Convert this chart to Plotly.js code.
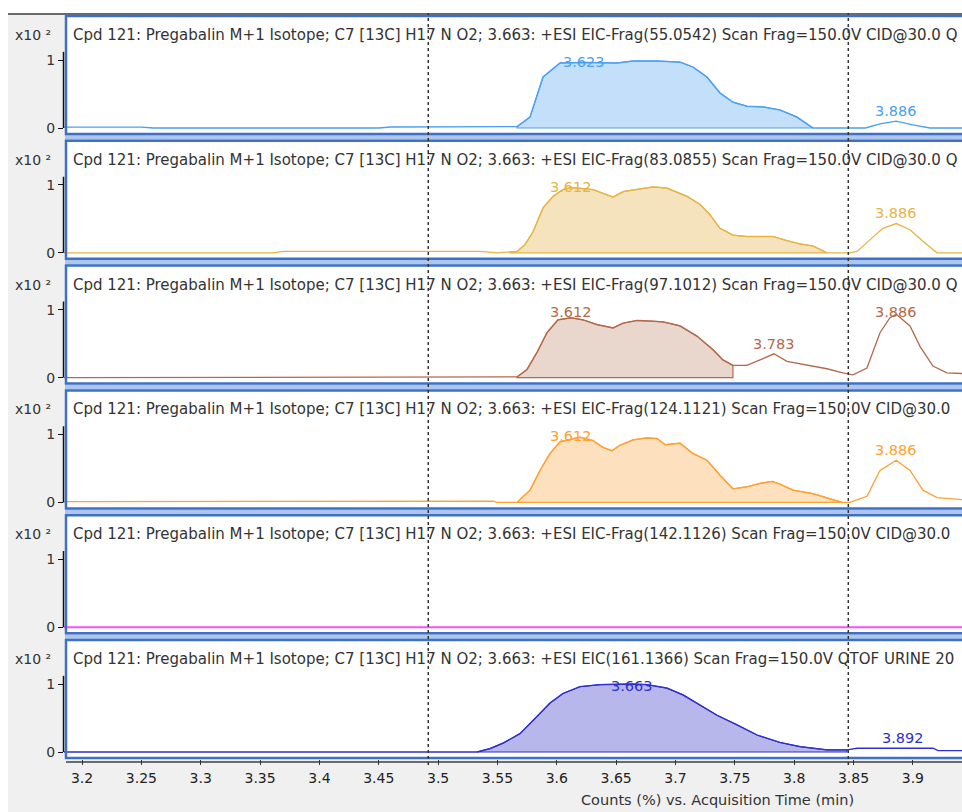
<!DOCTYPE html>
<html>
<head>
<meta charset="utf-8">
<script src="https://cdn.plot.ly/plotly-3.0.1.min.js"></script>
<style>html,body{margin:0;padding:0;background:#fff;}#chart{width:962px;height:812px;}</style>
</head>
<body>
<div id="chart"></div>
<script>
// ---------- DATA ----------
const panelTitles = [
  "Cpd 121: Pregabalin M+1 Isotope; C7 [13C] H17 N O2; 3.663: +ESI EIC-Frag(55.0542) Scan Frag=150.0V CID@30.0 Q",
  "Cpd 121: Pregabalin M+1 Isotope; C7 [13C] H17 N O2; 3.663: +ESI EIC-Frag(83.0855) Scan Frag=150.0V CID@30.0 Q",
  "Cpd 121: Pregabalin M+1 Isotope; C7 [13C] H17 N O2; 3.663: +ESI EIC-Frag(97.1012) Scan Frag=150.0V CID@30.0 Q",
  "Cpd 121: Pregabalin M+1 Isotope; C7 [13C] H17 N O2; 3.663: +ESI EIC-Frag(124.1121) Scan Frag=150.0V CID@30.0",
  "Cpd 121: Pregabalin M+1 Isotope; C7 [13C] H17 N O2; 3.663: +ESI EIC-Frag(142.1126) Scan Frag=150.0V CID@30.0",
  "Cpd 121: Pregabalin M+1 Isotope; C7 [13C] H17 N O2; 3.663: +ESI EIC(161.1366) Scan Frag=150.0V QTOF URINE 20"
];
const yScaleLabel = "x10 \u00B2";

// Panel 1: EIC-Frag 55.0542 (x10^2 counts %)
const t1 = [3.1848, 3.25, 3.26, 3.45, 3.46, 3.49, 3.50, 3.5665, 3.5774, 3.5884, 3.6027, 3.6195, 3.623, 3.6507, 3.6642, 3.6844, 3.7038, 3.7147, 3.7265, 3.7375, 3.7484, 3.7602, 3.7737, 3.788, 3.8024, 3.8158, 3.82, 3.86, 3.8723, 3.886, 3.90, 3.9144, 3.9414];
const y1 = [0.012, 0.012, 0.0, 0.0, 0.015, 0.015, 0.02, 0.02, 0.16, 0.75, 0.956, 0.96, 0.965, 0.956, 0.985, 0.985, 0.97, 0.897, 0.75, 0.515, 0.38, 0.32, 0.31, 0.265, 0.16, 0.0, 0.0, 0.0, 0.06, 0.1, 0.045, 0.0, 0.0];
// Panel 2: EIC-Frag 83.0855
const t2 = [3.1848, 3.36, 3.37, 3.5353, 3.5496, 3.5606, 3.5665, 3.5732, 3.58, 3.5884, 3.5968, 3.6052, 3.612, 3.6305, 3.6389, 3.6474, 3.6558, 3.6676, 3.6811, 3.6929, 3.7097, 3.7207, 3.7291, 3.7375, 3.7484, 3.7602, 3.7821, 3.7939, 3.8049, 3.8158, 3.8276, 3.847, 3.8529, 3.8638, 3.8748, 3.886, 3.8976, 3.9085, 3.9203, 3.9414];
const y2 = [0.0, 0.0, 0.02, 0.02, 0.0, 0.01, 0.02, 0.12, 0.31, 0.66, 0.83, 0.93, 0.96, 0.93, 0.88, 0.82, 0.90, 0.93, 0.97, 0.95, 0.83, 0.71, 0.56, 0.36, 0.26, 0.24, 0.24, 0.18, 0.13, 0.10, 0.0, 0.0, 0.02, 0.19, 0.36, 0.43, 0.34, 0.17, 0.0, 0.0];
// Panel 3: EIC-Frag 97.1012
const t3 = [3.1848, 3.5665, 3.5749, 3.5833, 3.5917, 3.601, 3.612, 3.6221, 3.6339, 3.6474, 3.6558, 3.6676, 3.6811, 3.6895, 3.7038, 3.7181, 3.7316, 3.74, 3.7484, 3.7602, 3.7712, 3.783, 3.7939, 3.8108, 3.8276, 3.8411, 3.8495, 3.8613, 3.8723, 3.8807, 3.886, 3.8976, 3.906, 3.9169, 3.9287, 3.9414];
const y3 = [0.0, 0.01, 0.12, 0.37, 0.66, 0.85, 0.88, 0.85, 0.78, 0.73, 0.80, 0.84, 0.83, 0.82, 0.76, 0.61, 0.41, 0.26, 0.18, 0.18, 0.26, 0.35, 0.24, 0.19, 0.13, 0.07, 0.04, 0.14, 0.66, 0.88, 0.93, 0.76, 0.46, 0.17, 0.07, 0.06];
// Panel 4: EIC-Frag 124.1121
const t4 = [3.1848, 3.53, 3.5353, 3.5462, 3.5496, 3.5665, 3.5774, 3.5858, 3.5943, 3.6027, 3.612, 3.6195, 3.6305, 3.6389, 3.6465, 3.6532, 3.6642, 3.676, 3.6844, 3.6912, 3.7038, 3.7147, 3.7265, 3.7375, 3.7484, 3.7602, 3.7712, 3.7813, 3.788, 3.799, 3.8158, 3.8302, 3.8403, 3.847, 3.8613, 3.8723, 3.886, 3.8976, 3.9085, 3.9203, 3.9338, 3.9414];
const y4 = [0.01, 0.01, 0.02, 0.02, 0.0, 0.0, 0.18, 0.47, 0.72, 0.89, 0.93, 0.96, 0.91, 0.81, 0.76, 0.84, 0.92, 0.95, 0.94, 0.85, 0.87, 0.72, 0.62, 0.40, 0.20, 0.23, 0.28, 0.31, 0.27, 0.18, 0.13, 0.05, 0.0, 0.0, 0.09, 0.47, 0.62, 0.47, 0.18, 0.07, 0.05, 0.04];
// Panel 5: EIC-Frag 142.1126 (flat)
const t5 = [3.1848, 3.9414];
const y5 = [0.0, 0.0];
// Panel 6: EIC 161.1366
const t6 = [3.1848, 3.5328, 3.5437, 3.5547, 3.569, 3.5833, 3.5943, 3.6052, 3.6195, 3.6364, 3.663, 3.676, 3.6929, 3.7063, 3.7207, 3.735, 3.7518, 3.7687, 3.788, 3.8049, 3.8276, 3.8445, 3.853, 3.892, 3.917, 3.9212, 3.9414];
const y6 = [0.0, 0.0, 0.05, 0.13, 0.27, 0.52, 0.72, 0.86, 0.96, 0.99, 1.0, 0.99, 0.94, 0.84, 0.69, 0.54, 0.40, 0.25, 0.14, 0.08, 0.03, 0.03, 0.055, 0.055, 0.055, 0.02, 0.02];

const times = [t1, t2, t3, t4, t5, t6];
const values = [y1, y2, y3, y4, y5, y6];
// integrated (filled) peak ranges
const fillStart = [3.5665, 3.5606, 3.5665, 3.5665, null, 3.5328];
const fillEnd   = [3.8158, 3.8276, 3.7484, 3.8403, null, 3.8445];
// peak labels
const peakLabels = [["3.623", "3.886"], ["3.612", "3.886"], ["3.612", "3.783", "3.886"], ["3.612", "3.886"], [], ["3.663", "3.892"]];
const markerTimes = [3.4917, 3.8456];
const xTicks = [3.2, 3.25, 3.3, 3.35, 3.4, 3.45, 3.5, 3.55, 3.6, 3.65, 3.7, 3.75, 3.8, 3.85, 3.9];
const xTitle = "Counts (%) vs. Acquisition Time (min)";

const lineColors = ["#4aa0f2", "#e6b443", "#b4694a", "#ffa030", "#ff4dff", "#2f2fcc"];
const fillColors = ["#c4dff9", "#f4e3bd", "#e9d7cd", "#fde0bd", "#ffffff", "#b7b7ec"];

// ---------- LAYOUT HELPERS ----------
const W = 962, H = 812;
const fx = p => p / W;
const fy = p => 1 - p / H;
const PERIOD = 124.8, TOP0 = 15, BOXH = 120, ONE = 45, ZERO = 113, PXU = 68;
const FONT = "DejaVu Sans, Liberation Sans, sans-serif";
const FS = 14.5;

function interp(xs, ys, x) {
  for (let i = 0; i < xs.length - 1; i++) {
    if (x >= xs[i] && x <= xs[i + 1]) {
      const f = (x - xs[i]) / (xs[i + 1] - xs[i]);
      return ys[i] + f * (ys[i + 1] - ys[i]);
    }
  }
  return 0;
}

const traces = [], shapes = [], annotations = [];
const layout = {
  width: W, height: H,
  margin: {l: 0, r: 0, t: 0, b: 0},
  paper_bgcolor: "#ffffff",
  plot_bgcolor: "rgba(0,0,0,0)",
  showlegend: false,
  font: {family: FONT, size: FS, color: "#333"},
  xaxis: {
    domain: [fx(64), 1],
    range: [3.1848, 3.9414],
    anchor: "y6",
    tickvals: xTicks,
    ticktext: xTicks.map(v => String(v)),
    ticks: "outside", ticklen: 5, tickcolor: "#333", tickwidth: 1,
    showgrid: false, zeroline: false, showline: false,
    tickfont: {family: FONT, size: 14, color: "#222"},
    ticklabelstandoff: 1
  }
};

// background frame
shapes.push({type: "rect", xref: "paper", yref: "paper", x0: fx(8), x1: 1, y0: 0, y1: fy(13), fillcolor: "#f0f0f0", line: {width: 0}, layer: "below"});
shapes.push({type: "line", xref: "paper", yref: "paper", x0: fx(8), x1: 1, y0: fy(14), y1: fy(14), line: {color: "#6a6a6a", width: 2}, layer: "below"});
// gap strip between panels
shapes.push({type: "rect", xref: "paper", yref: "paper", x0: fx(65), x1: 1, y0: fy(TOP0 + 5 * PERIOD + BOXH), y1: fy(TOP0), fillcolor: "#aec6ec", line: {width: 0}, layer: "below"});
// bottom gray shadow
shapes.push({type: "line", xref: "paper", yref: "paper", x0: fx(66), x1: 1, y0: fy(762), y1: fy(762), line: {color: "#6a6a6a", width: 2}, layer: "below"});

for (let i = 0; i < 6; i++) {
  const T = TOP0 + PERIOD * i, B = T + BOXH;
  const yname = i === 0 ? "y" : "y" + (i + 1);
  const ykey = i === 0 ? "yaxis" : "yaxis" + (i + 1);
  layout[ykey] = {
    domain: [fy(B), fy(T)],
    range: [-(BOXH - ZERO) / PXU, 1 + ONE / PXU],
    anchor: "x",
    tickvals: [0, 1], ticktext: ["0", "1"],
    ticks: "outside", ticklen: 5, tickcolor: "#111", tickwidth: 1,
    showgrid: false, zeroline: false, showline: false,
    tickfont: {family: FONT, size: 14, color: "#333"},
    ticklabelstandoff: 0,
    fixedrange: true
  };
  // white panel box
  shapes.push({type: "rect", xref: "paper", yref: "paper", x0: fx(65), x1: fx(990), y0: fy(B), y1: fy(T), fillcolor: "#ffffff", line: {width: 0}, layer: "below"});
  // blue border
  shapes.push({type: "rect", xref: "paper", yref: "paper", x0: fx(66), x1: fx(990), y0: fy(B - 1), y1: fy(T + 1), fillcolor: "rgba(0,0,0,0)", line: {color: "#3d70c6", width: 2.5}, layer: "above"});
  // y axis black line
  shapes.push({type: "line", xref: "paper", yref: yname, x0: fx(63.5), x1: fx(63.5), y0: 0, y1: 1.12, line: {color: "#111", width: 1.5}, layer: "above"});

  const xs = times[i], ys = values[i];
  // filled integration area
  if (fillStart[i] !== null) {
    const fxs = [], fys = [];
    for (let k = 0; k < xs.length; k++) {
      if (xs[k] >= fillStart[i] - 1e-9 && xs[k] <= fillEnd[i] + 1e-9) { fxs.push(xs[k]); fys.push(ys[k]); }
    }
    fxs.push(fillEnd[i], fillStart[i], fxs[0]);
    fys.push(0, 0, fys[0]);
    traces.push({x: fxs, y: fys, xaxis: "x", yaxis: yname, type: "scatter", mode: "lines", fill: "toself", fillcolor: fillColors[i], line: {color: lineColors[i], width: 1.2}, hoverinfo: "skip"});
  }
  traces.push({x: xs, y: ys, xaxis: "x", yaxis: yname, type: "scatter", mode: "lines", line: {color: lineColors[i], width: i === 4 ? 2 : 1.3}, hoverinfo: "skip"});

  // panel title and x10^2 label
  annotations.push({xref: "paper", yref: "paper", x: fx(71), y: fy(T + 20), xanchor: "left", yanchor: "middle", text: panelTitles[i], showarrow: false, font: {family: FONT, size: 15, color: "#333"}});
  annotations.push({xref: "paper", yref: "paper", x: fx(13), y: fy(T + 20), xanchor: "left", yanchor: "middle", text: yScaleLabel, showarrow: false, font: {family: FONT, size: 14, color: "#333"}});

  // peak labels
  peakLabels[i].forEach(lbl => {
    const px = parseFloat(lbl);
    const pv = interp(xs, ys, px);
    annotations.push({xref: "x", yref: yname, x: px, y: Math.min(pv + 0.15, 0.97), xanchor: "center", yanchor: "middle", text: lbl, showarrow: false, font: {family: FONT, size: FS, color: lineColors[i]}});
  });
}

// dashed time markers
markerTimes.forEach(t => {
  shapes.push({type: "line", xref: "x", yref: "paper", x0: t, x1: t, y0: fy(765), y1: fy(13), line: {color: "#333", width: 1.5, dash: "dot"}, layer: "above"});
});

annotations.push({xref: "paper", yref: "paper", x: fx(717), y: fy(800), xanchor: "center", yanchor: "middle", text: xTitle, showarrow: false, font: {family: FONT, size: FS, color: "#333"}});

layout.shapes = shapes;
layout.annotations = annotations;

Plotly.newPlot("chart", traces, layout, {displayModeBar: false, staticPlot: true});
</script>
</body>
</html>
